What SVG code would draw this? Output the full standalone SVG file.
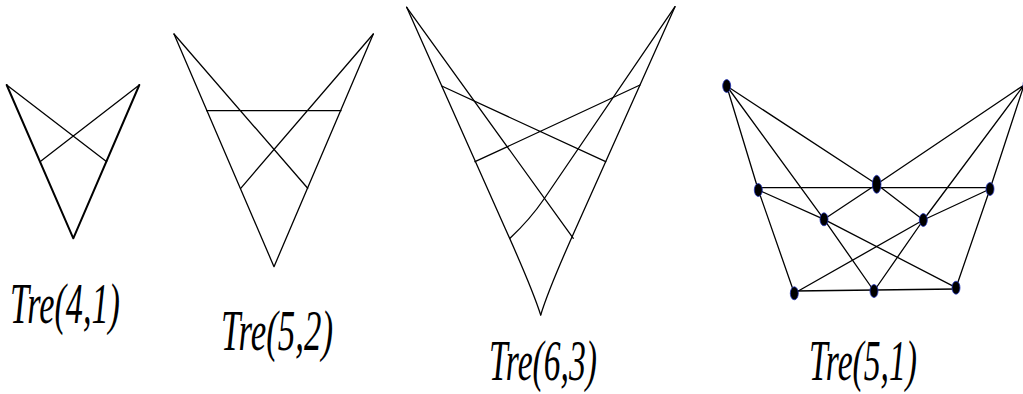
<svg xmlns="http://www.w3.org/2000/svg" width="1023" height="394" viewBox="0 0 1023 394">
<style>
.ln{fill:none;stroke:#000;stroke-width:1.3;stroke-linecap:round;stroke-linejoin:round}
.thick{stroke-width:2}
.nd{fill:#000;stroke:#2233bb;stroke-width:0.8}
.lbl{font-family:"Liberation Serif","DejaVu Serif",serif;font-style:italic;font-size:56px;fill:#000}
</style>
<rect width="1023" height="394" fill="#fff"/>

<g id="tre41">
  <path class="ln thick" d="M6.7,85 L73.3,238.3 L139.3,85"/>
  <path class="ln" d="M6.7,85 L106.7,161.7 M139.3,85 L40,161.7"/>
</g>

<g id="tre52">
  <path class="ln" d="M174,34 L274,266.7 L373.3,34"/>
  <path class="ln" d="M174,34 L307.7,188.3 M373.3,34 L240.7,188.3 M206.7,110.7 L341,110.7"/>
</g>

<g id="tre63">
  <path class="ln" d="M406.7,7.3 L505,228 Q532,288 540.7,315"/>
  <path class="ln" d="M675,6.7 L576,228 Q549,288 540.7,315"/>
  <path class="ln" d="M406.7,7.3 L573.3,238.3"/>
  <path class="ln" d="M675,6.7 L544,199 Q530.4,219 510,238.3"/>
  <path class="ln" d="M441.7,86 L605.7,161.7 M640,85 L475,161.7"/>
</g>

<g id="tre51-edges">
  <path class="ln" d="M726.7,86 L758.3,190 M726.7,86 L876.7,184.3 M726.7,86 L824,219.3 L874,291"/>
  <path class="ln" d="M1024,85 L990,189 M1024,85 L876.7,184.3 M1024,85 L923.3,220 L874,291"/>
  <path class="ln" d="M758.3,187.7 L990,187.7"/>
  <path class="ln" d="M758.3,190 L824,219.3 L876.7,184.3 L923.3,220 L990,189"/>
  <path class="ln" d="M758.3,190 L794.3,293.3 M990,189 L956,287.7"/>
  <path class="ln" d="M794.3,291 L956,289"/>
  <path class="ln" d="M824,219.3 L956,287.7 M923.3,220 L794.3,293.3"/>
</g>

<g id="nA"><ellipse class="nd" cx="726.7" cy="86" rx="4" ry="6.5"/></g>
<g id="nB"><ellipse class="nd" cx="1027" cy="85" rx="4" ry="6.5"/></g>
<g id="nC"><ellipse class="nd" cx="758.3" cy="190" rx="4" ry="6.5"/></g>
<g id="nD"><ellipse class="nd" cx="876.7" cy="184.3" rx="4.3" ry="9"/></g>
<g id="nE"><ellipse class="nd" cx="990" cy="189" rx="4" ry="6.5"/></g>
<g id="nF"><ellipse class="nd" cx="824" cy="219.3" rx="4" ry="6.5"/></g>
<g id="nG"><ellipse class="nd" cx="923.3" cy="220" rx="4" ry="6.5"/></g>
<g id="nH"><ellipse class="nd" cx="794.3" cy="293.3" rx="4" ry="6.5"/></g>
<g id="nI"><ellipse class="nd" cx="874" cy="291" rx="4" ry="6.5"/></g>
<g id="nJ"><ellipse class="nd" cx="956" cy="287.7" rx="4" ry="6.5"/></g>

<g id="labels">
  <text class="lbl" x="10" y="323" textLength="110" lengthAdjust="spacingAndGlyphs">Tre(4,1)</text>
  <text class="lbl" x="221" y="350" textLength="112" lengthAdjust="spacingAndGlyphs">Tre(5,2)</text>
  <text class="lbl" x="489" y="380" textLength="108" lengthAdjust="spacingAndGlyphs">Tre(6,3)</text>
  <text class="lbl" x="809" y="380" textLength="108" lengthAdjust="spacingAndGlyphs">Tre(5,1)</text>
</g>
</svg>
